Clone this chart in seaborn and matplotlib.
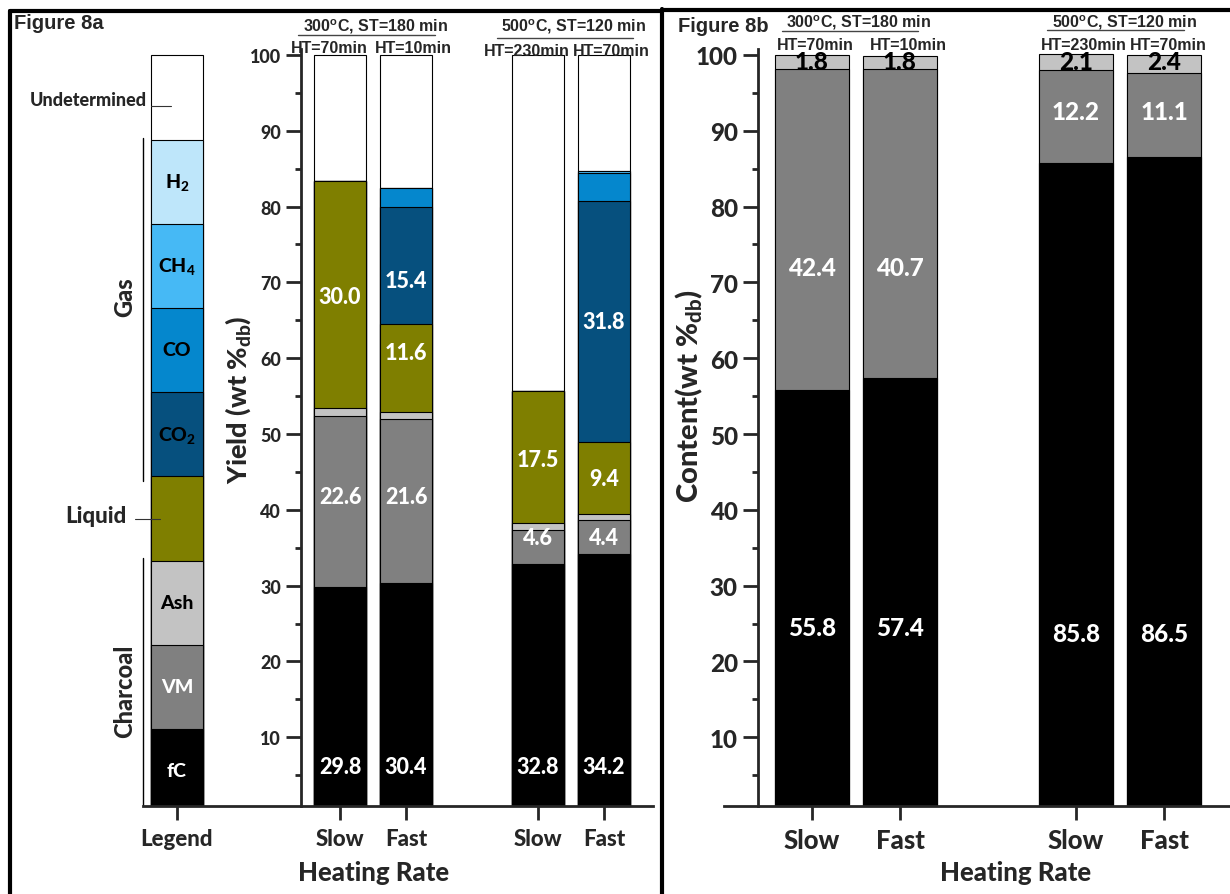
import matplotlib
matplotlib.use('Agg')
import numpy as np
import pandas as pd
import seaborn as sns
import matplotlib.pyplot as plt
from matplotlib.lines import Line2D
from matplotlib.ticker import MultipleLocator

sns.set_style('white')
plt.rcParams['font.family'] = ['Lato', 'DejaVu Sans']
plt.rcParams['font.weight'] = 'black'
plt.rcParams['mathtext.default'] = 'regular'

# ---- Figure 8a: product yield (wt %db), first bar is the legend column ----
labels_a = ['Legend', 'Slow', 'Fast', 'Slow', 'Fast']
fc_a = [11.1, 29.8, 30.4, 32.8, 34.2]
vm_a = [11.1, 22.6, 21.6, 4.6, 4.4]
ash_a = [11.1, 1.0, 0.9, 0.8, 0.9]
liquid_a = [11.1, 30.0, 11.6, 17.5, 9.4]
co2_a = [11.1, 0.0, 15.4, 0.0, 31.8]
co_a = [11.1, 0.0, 2.6, 0.0, 3.7]
ch4_a = [11.1, 0.0, 0.0, 0.0, 0.3]
h2_a = [11.1, 0.0, 0.0, 0.0, 0.0]
undet_a = [11.2, 16.6, 17.5, 44.3, 15.3]

# ---- Figure 8b: charcoal composition (wt %db) ----
labels_b = ['Slow', 'Fast', 'Slow', 'Fast']
fc_b = [55.8, 57.4, 85.8, 86.5]
vm_b = [42.4, 40.7, 12.2, 11.1]
ash_b = [1.8, 1.8, 2.1, 2.4]

# layout
pos_a = [-2.47, 0, 1, 3, 4]
pos_b = [0, 1, 3, 4]
colors_a = ['#000000', '#808080', '#c3c3c3', '#7f7f00', '#06507e',
            '#0587cd', '#46b9f5', '#bee6fa', '#ffffff']
colors_b = ['#000000', '#808080', '#c3c3c3']

W, H = 1230, 895
fig = plt.figure(figsize=(W / 100, H / 100), dpi=100)


def fx(x):
    return x / W


def fy(y):
    return 1 - y / H


ax_a = fig.add_axes([fx(143), fy(806.5), (652.7 - 143) / W, (806.5 - 49.9) / H])
ax_b = fig.add_axes([fx(724), fy(806.5), (1230 - 724) / W, (806.5 - 49.9) / H])


def stacked(ax, pos, layers, colors, width):
    cum = np.cumsum(np.array(layers), axis=0)
    # draw the tallest stack first, then paint lower layers over it
    for i in range(len(layers) - 1, -1, -1):
        df = pd.DataFrame({'pos': pos, 'top': cum[i]})
        sns.barplot(data=df, x='pos', y='top', native_scale=True, orient='x',
                    color=colors[i], saturation=1, width=width,
                    edgecolor='black', linewidth=0.8, errorbar=None, ax=ax)
    return cum


def style_axis(ax, spine_x, tick_fs, xtick_fs):
    sns.despine(ax=ax)
    ax.spines['left'].set_position(('data', spine_x))
    ax.spines['left'].set_linewidth(2)
    ax.spines['bottom'].set_linewidth(2)
    ax.set_ylim(1.0, 100.8)
    ax.set_yticks(range(10, 101, 10))
    ax.yaxis.set_minor_locator(MultipleLocator(5))
    ax.tick_params(axis='y', which='major', direction='out', length=10.5, width=2,
                   pad=4, labelsize=tick_fs, left=True)
    ax.tick_params(axis='y', which='minor', direction='out', length=4.5, width=2, left=True)
    ax.tick_params(axis='x', direction='out', length=10, width=2, pad=6,
                   labelsize=xtick_fs, bottom=True)
    ax.set_xlabel('')
    ax.set_ylabel('')


# ---- panel a ----
layers_a = [fc_a, vm_a, ash_a, liquid_a, co2_a, co_a, ch4_a, h2_a, undet_a]
stacked(ax_a, pos_a, layers_a, colors_a, 0.8)
style_axis(ax_a, -0.59, 13, 16)
ax_a.set_xlim(-2.985, 4.738)
ax_a.set_xticks(pos_a, labels_a)

# value labels (y positions as placed in the figure)
lab_fc_y = [6.1, 6.1, 6.1, 6.1]
lab_vm_y = [41.8, 41.8, 36.3, 36.3]
lab_liq_y = [68.1, 60.8, 46.7, 44.1]
lab_co2_y = [None, 70.2, None, 64.9]
val_fs = 15.5
for k in range(4):
    x = pos_a[k + 1]
    ax_a.text(x, lab_fc_y[k], f'{fc_a[k + 1]:.1f}', color='white', fontsize=val_fs, ha='center', va='center')
    ax_a.text(x, lab_vm_y[k], f'{vm_a[k + 1]:.1f}', color='white', fontsize=val_fs, ha='center', va='center')
    ax_a.text(x, lab_liq_y[k], f'{liquid_a[k + 1]:.1f}', color='white', fontsize=val_fs, ha='center', va='center')
    if lab_co2_y[k] is not None:
        ax_a.text(x, lab_co2_y[k], f'{co2_a[k + 1]:.1f}', color='white', fontsize=val_fs, ha='center', va='center')

# legend column text
legend_names = ['fC', 'VM', 'Ash', None, 'CO$_2$', 'CO', 'CH$_4$', 'H$_2$', None]
legend_txt_col = ['white', 'white', 'black', None, 'black', 'black', 'black', 'black', None]
seg = 100 / 9
for i, name in enumerate(legend_names):
    if name:
        ax_a.text(pos_a[0], seg * (i + 0.5), name, color=legend_txt_col[i], fontsize=14,
                  ha='center', va='center')

ax_a.text(-2.93, 94.1, 'Undetermined', fontsize=13, ha='right', va='center')
ax_a.plot([-2.86, -2.56], [93.3, 93.3], color='#333333', lw=0.8, clip_on=False)
ax_a.text(-3.23, 39.3, 'Liquid', fontsize=16, ha='right', va='center')
ax_a.plot([-3.11, -2.73], [38.8, 38.8], color='#333333', lw=0.8, clip_on=False)
ax_a.plot([-2.98, -2.98], [43.8, 89.1], color='black', lw=1, clip_on=False)
ax_a.text(-3.26, 68.2, 'Gas', fontsize=17, rotation=90, ha='center', va='center')
ax_a.plot([-2.98, -2.98], [1.1, 33.6], color='black', lw=1, clip_on=False)
ax_a.text(-3.26, 16.2, 'Charcoal', fontsize=17, rotation=90, ha='center', va='center')

# ---- panel b ----
stacked(ax_b, pos_b, [fc_b, vm_b, ash_b], colors_b, 0.83)
style_axis(ax_b, -0.614, 17.5, 18.5)
ax_b.set_xlim(-1.0, 4.75)
ax_b.set_xticks(pos_b, labels_b)

lab_fcb_y = [24.5, 24.5, 23.7, 23.7]
lab_vmb_y = [72.0, 72.0, 92.6, 92.6]
for k, x in enumerate(pos_b):
    ax_b.text(x, lab_fcb_y[k], f'{fc_b[k]:.1f}', color='white', fontsize=17.5, ha='center', va='center')
    ax_b.text(x, lab_vmb_y[k], f'{vm_b[k]:.1f}', color='white', fontsize=17.5, ha='center', va='center')
    ax_b.text(x, 99.1, f'{ash_b[k]:.1f}', color='black', fontsize=17.5, ha='center', va='center')

# ---- axis titles ----
fig.text(fx(238), fy(400), 'Yield (wt %$_{db}$)', rotation=90, fontsize=19.5, ha='center', va='center')
fig.text(fx(689), fy(396), 'Content(wt %$_{db}$)', rotation=90, fontsize=21, ha='center', va='center')
fig.text(fx(374), fy(873), 'Heating Rate', fontsize=18.5, ha='center', va='center')
fig.text(fx(1016), fy(873), 'Heating Rate', fontsize=18.5, ha='center', va='center')

# ---- headers ----
hdr = dict(family=['Liberation Sans', 'DejaVu Sans'], fontweight='bold')
fig.text(fx(14), fy(14), 'Figure 8a', fontsize=14.5, ha='left', va='top', **hdr)
fig.text(fx(678), fy(17), 'Figure 8b', fontsize=14.5, ha='left', va='top', **hdr)

headers = [
    ('300$^{o}$C, ST=180 min', 376, 31.3, 298, 435, 36.3),
    ('500$^{o}$C, ST=120 min', 574, 31.3, 497, 633, 38.7),
    ('300$^{o}$C, ST=180 min', 859, 27.7, 782, 918, 31.7),
    ('500$^{o}$C, ST=120 min', 1125, 28.0, 1047, 1184, 31.0),
]
for txt, cx, by, x0, x1, ly in headers:
    fig.text(fx(cx), fy(by), txt, fontsize=11.5, ha='center', va='baseline', **hdr)
    fig.add_artist(Line2D([fx(x0), fx(x1)], [fy(ly), fy(ly)], color='#444444', lw=1))

ht_labels = [('HT=70min', 329, 53), ('HT=10min', 413, 53), ('HT=230min', 526.5, 56),
             ('HT=70min', 611, 56), ('HT=70min', 815, 50), ('HT=10min', 908, 50),
             ('HT=230min', 1084, 50), ('HT=70min', 1168, 50)]
for txt, cx, by in ht_labels:
    fig.text(fx(cx), fy(by), txt, fontsize=11.5, ha='center', va='baseline', **hdr)

# ---- panel frames ----
for xs, ys in [([10, 10], [12, 895]), ([10, 660], [12, 12]),
               ([662, 662], [10, 895]), ([662, 1230], [11, 11])]:
    fig.add_artist(Line2D([fx(v) for v in xs], [fy(v) for v in ys], color='black', lw=3))

plt.savefig('out.png', dpi=100)
